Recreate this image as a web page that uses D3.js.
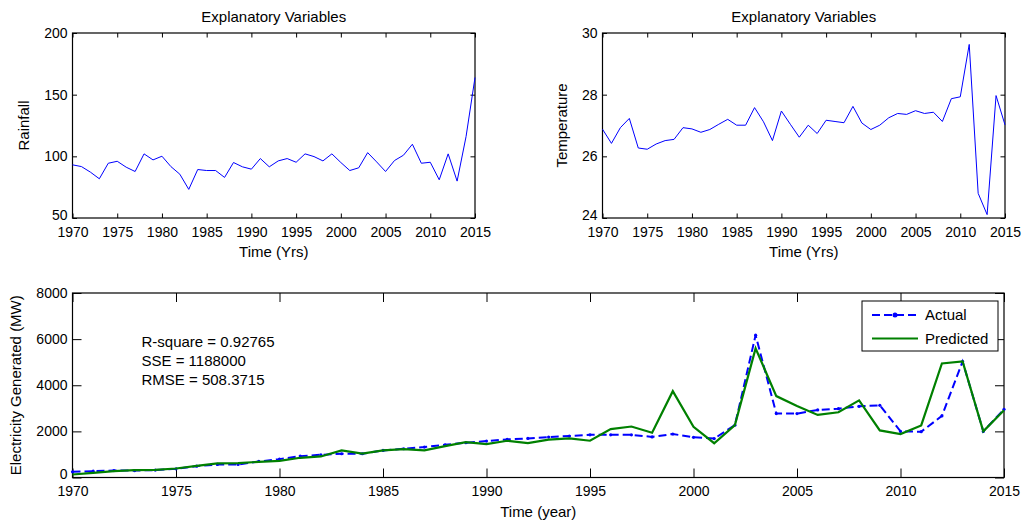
<!DOCTYPE html>
<html>
<head>
<meta charset="utf-8">
<script src="https://cdn.jsdelivr.net/npm/d3@7"></script>
<style>
  html, body { margin: 0; padding: 0; background: #fff; }
  svg { display: block; }
  text { font-family: "Liberation Sans", Arial, sans-serif; fill: #000; }
</style>
</head>
<body>
<svg id="chart" width="1023" height="524"></svg>
<script>
// ---------------- DATA ----------------
const years = [1970,1971,1972,1973,1974,1975,1976,1977,1978,1979,
               1980,1981,1982,1983,1984,1985,1986,1987,1988,1989,
               1990,1991,1992,1993,1994,1995,1996,1997,1998,1999,
               2000,2001,2002,2003,2004,2005,2006,2007,2008,2009,
               2010,2011,2012,2013,2014,2015];

const rainfall = [93.1, 91.7, 87.2, 81.8, 94.4, 96.0, 91.2, 87.7, 102.0, 97.1,
                  100.1, 91.7, 85.5, 73.2, 89.3, 88.5, 88.5, 82.9, 95.0, 91.5,
                  89.6, 98.2, 91.5, 96.3, 98.2, 95.2, 102.0, 99.8, 96.3, 102.0,
                  95.0, 88.5, 90.7, 103.0, 95.5, 87.7, 96.6, 100.9, 109.8, 94.4,
                  95.2, 81.0, 102.0, 79.9, 116.0, 163.9];

const temperature = [26.88, 26.42, 26.93, 27.23, 26.27, 26.23, 26.40, 26.51, 26.55, 26.93,
                     26.89, 26.78, 26.87, 27.04, 27.20, 27.01, 27.01, 27.58, 27.12, 26.51,
                     27.47, 27.04, 26.62, 27.01, 26.74, 27.17, 27.13, 27.09, 27.62, 27.08,
                     26.87, 27.01, 27.25, 27.39, 27.36, 27.48, 27.39, 27.43, 27.13, 27.87,
                     27.93, 29.63, 24.80, 24.11, 27.97, 27.02];

const actual = [246, 275, 300, 300, 320, 377, 493, 565, 565, 695,
                797, 927, 985, 1029, 1029, 1174, 1246, 1319, 1420, 1507,
                1580, 1652, 1695, 1753, 1800, 1850, 1850, 1850, 1760, 1886,
                1743, 1686, 2271, 6171, 2771, 2771, 2929, 2986, 3086, 3129,
                2000, 1986, 2671, 5029, 2000, 2957];

const predicted = [130, 200, 275, 320, 330, 390, 507, 609, 623, 680,
                   725, 855, 913, 1174, 1040, 1174, 1232, 1174, 1362, 1536,
                   1449, 1594, 1492, 1640, 1700, 1594, 2100, 2210, 1943, 3743,
                   2200, 1486, 2271, 5600, 3529, 3100, 2714, 2829, 3343, 2043,
                   1886, 2257, 4943, 5029, 2000, 2914];

const xTicks = [1970, 1975, 1980, 1985, 1990, 1995, 2000, 2005, 2010, 2015];
const rainTicks = [50, 100, 150, 200];
const tempTicks = [24, 26, 28, 30];
const elecTicks = [0, 2000, 4000, 6000, 8000];

const statsLines = ["R-square = 0.92765", "SSE = 1188000", "RMSE = 508.3715"];
const legendLabels = ["Actual", "Predicted"];

// ---------------- DRAW ----------------
const svg = d3.select("#chart");

function panel(opts) {
  const { x0, x1, y0, y1, yDomain, yTicks, tick, xPad, yLabel, xLabel, title,
          yLabelX, xLabelY, fontSize } = opts;
  const g = svg.append("g");
  const x = d3.scaleLinear().domain([1970, 2015]).range([x0, x1]);
  const y = d3.scaleLinear().domain(yDomain).range([y1, y0]);

  const ax = g.append("g").attr("transform", `translate(0,${y1})`)
    .call(d3.axisBottom(x).tickValues(xTicks).tickFormat(d3.format("d"))
      .tickSizeInner(-tick).tickSizeOuter(0).tickPadding(xPad));
  const axT = g.append("g").attr("transform", `translate(0,${y0})`)
    .call(d3.axisTop(x).tickValues(xTicks).tickFormat("")
      .tickSizeInner(-tick).tickSizeOuter(0));
  const ay = g.append("g").attr("transform", `translate(${x0},0)`)
    .call(d3.axisLeft(y).tickValues(yTicks).tickFormat(d3.format("d"))
      .tickSizeInner(-tick).tickSizeOuter(0).tickPadding(5));
  const ayR = g.append("g").attr("transform", `translate(${x1},0)`)
    .call(d3.axisRight(y).tickValues(yTicks).tickFormat("")
      .tickSizeInner(-tick).tickSizeOuter(0));

  [ax, axT, ay, ayR].forEach(a => {
    a.select(".domain").remove();
    a.selectAll("line").attr("stroke", "#000").attr("stroke-width", 1);
    a.selectAll("text").attr("font-size", fontSize)
      .attr("font-family", "'Liberation Sans', Arial, sans-serif").attr("fill", "#000");
  });
  // lift the lowest y label slightly so it does not collide with the first x label
  ay.selectAll(".tick text").filter(d => d === yDomain[0]).attr("dy", "0.1em");

  g.append("rect").attr("x", x0).attr("y", y0)
    .attr("width", x1 - x0).attr("height", y1 - y0)
    .attr("fill", "none").attr("stroke", "#000").attr("stroke-width", 1.2);

  if (title) {
    g.append("text").attr("x", (x0 + x1) / 2).attr("y", y0 - 16.5)
      .attr("text-anchor", "middle").attr("dy", "0.35em")
      .attr("font-size", 15).text(title);
  }
  g.append("text").attr("x", (x0 + x1) / 2).attr("y", xLabelY)
    .attr("text-anchor", "middle").attr("dy", "0.35em")
    .attr("font-size", 15).text(xLabel);
  g.append("text")
    .attr("transform", `translate(${yLabelX},${(y0 + y1) / 2}) rotate(-90)`)
    .attr("text-anchor", "middle").attr("dy", "0.35em")
    .attr("font-size", 15).text(yLabel);

  return { g, x, y };
}

// Top-left: rainfall
const p1 = panel({ x0: 72.5, x1: 475, y0: 33, y1: 218, yDomain: [50, 200],
  yTicks: rainTicks, tick: 4.5, xPad: 9, yLabel: "Rainfall", xLabel: "Time (Yrs)",
  title: "Explanatory Variables", yLabelX: 24, xLabelY: 252, fontSize: 14 });
p1.g.append("path").datum(rainfall)
  .attr("fill", "none").attr("stroke", "#0000ff").attr("stroke-width", 1)
  .attr("d", d3.line().x((d, i) => p1.x(years[i])).y(d => p1.y(d)));

// Top-right: temperature
const p2 = panel({ x0: 602.5, x1: 1005, y0: 33, y1: 218, yDomain: [24, 30],
  yTicks: tempTicks, tick: 4.5, xPad: 9, yLabel: "Temperature", xLabel: "Time (Yrs)",
  title: "Explanatory Variables", yLabelX: 562, xLabelY: 252, fontSize: 14 });
p2.g.append("path").datum(temperature)
  .attr("fill", "none").attr("stroke", "#0000ff").attr("stroke-width", 1)
  .attr("d", d3.line().x((d, i) => p2.x(years[i])).y(d => p2.y(d)));

// Bottom: electricity
const p3 = panel({ x0: 72.5, x1: 1004, y0: 293, y1: 477.5, yDomain: [0, 8000],
  yTicks: elecTicks, tick: 9, xPad: 9, yLabel: "Electricity Generated (MW)",
  xLabel: "Time (year)", title: null, yLabelX: 16, xLabelY: 512, fontSize: 14 });

const lineGen = d3.line().x((d, i) => p3.x(years[i])).y(d => p3.y(d));
p3.g.append("path").datum(actual)
  .attr("fill", "none").attr("stroke", "#0000ff").attr("stroke-width", 2)
  .attr("stroke-dasharray", "8,4").attr("d", lineGen);
p3.g.selectAll("circle.act").data(actual).enter().append("circle")
  .attr("class", "act")
  .attr("cx", (d, i) => p3.x(years[i])).attr("cy", d => p3.y(d))
  .attr("r", 1.6).attr("fill", "#0000ff");
p3.g.append("path").datum(predicted)
  .attr("fill", "none").attr("stroke", "#008000").attr("stroke-width", 2.2)
  .attr("d", lineGen);

// stats text
p3.g.selectAll("text.stats").data(statsLines).enter().append("text")
  .attr("class", "stats")
  .attr("x", 141.5).attr("y", (d, i) => 341.5 + i * 19.3)
  .attr("dy", "0.35em").attr("font-size", 15).text(d => d);

// legend
const lg = p3.g.append("g");
lg.append("rect").attr("x", 862).attr("y", 301).attr("width", 136).attr("height", 50)
  .attr("fill", "#fff").attr("stroke", "#000").attr("stroke-width", 1);
const legY = [315, 338.5];
const legColor = ["#0000ff", "#008000"];
legendLabels.forEach((lab, i) => {
  const ln = lg.append("line").attr("x1", 872).attr("x2", 918)
    .attr("y1", legY[i]).attr("y2", legY[i])
    .attr("stroke", legColor[i]).attr("stroke-width", 2);
  if (i === 0) {
    ln.attr("stroke-dasharray", "8,4");
    lg.append("circle").attr("cx", 895).attr("cy", legY[i]).attr("r", 2.5).attr("fill", legColor[i]);
  }
  lg.append("text").attr("x", 925).attr("y", legY[i]).attr("dy", "0.35em")
    .attr("font-size", 15).text(lab);
});
</script>
</body>
</html>
